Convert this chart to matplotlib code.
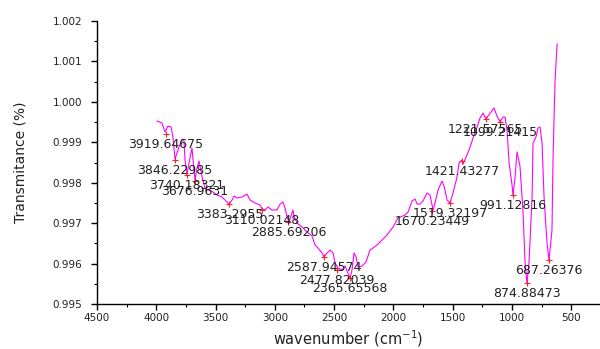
import matplotlib
matplotlib.use("Agg")
import matplotlib.pyplot as plt
from matplotlib.ticker import MultipleLocator, FormatStrFormatter

plt.rcParams['font.family'] = ['DejaVu Sans']

# FTIR spectrum
wavenumber = [3994, 3952, 3926, 3901, 3876, 3859, 3842, 3817, 3783, 3766,
              3758, 3741, 3724, 3699, 3690, 3673, 3656, 3640, 3614, 3589,
              3564, 3521, 3488, 3446, 3403, 3386, 3361, 3344, 3319, 3277,
              3235, 3209, 3167, 3125, 3108, 3083, 3057, 3024, 2982, 2956,
              2931, 2914, 2897, 2880, 2847, 2838, 2813, 2771, 2728, 2686,
              2661, 2636, 2602, 2585, 2560, 2534, 2509, 2492, 2467, 2433,
              2408, 2383, 2366, 2349, 2332, 2315, 2298, 2264, 2231, 2197,
              2138, 2096, 2054, 2003, 1961, 1902, 1876, 1843, 1817, 1800,
              1775, 1750, 1716, 1691, 1665, 1649, 1623, 1590, 1573, 1547,
              1522, 1497, 1463, 1446, 1421, 1412, 1379, 1353, 1328, 1294,
              1269, 1244, 1218, 1202, 1176, 1151, 1126, 1100, 1075, 1058,
              1041, 1024, 999, 991, 974, 957, 932, 906, 889, 873,
              856, 830, 822, 797, 780, 763, 746, 729, 704, 687,
              662, 653, 636, 619]
transmittance = [0.999526, 0.999477, 0.999254, 0.999403, 0.999378, 0.999131, 0.998587, 0.998809, 0.999081, 0.999032,
                 0.998562, 0.998216, 0.998488, 0.998859, 0.998562, 0.998067, 0.998364, 0.998537, 0.998141, 0.997869,
                 0.997820, 0.997770, 0.997696, 0.997647, 0.997523, 0.997473, 0.997572, 0.997671, 0.997622, 0.997647,
                 0.997721, 0.997572, 0.997498, 0.997449, 0.997350, 0.997325, 0.997399, 0.997325, 0.997325, 0.997473,
                 0.997523, 0.997375, 0.997152, 0.997028, 0.997325, 0.997177, 0.997004, 0.996905, 0.996781, 0.996682,
                 0.996459, 0.996385, 0.996261, 0.996163, 0.996261, 0.996336, 0.996261, 0.996014, 0.995890, 0.995841,
                 0.995940, 0.995767, 0.995643, 0.995841, 0.996261, 0.996163, 0.995915, 0.995940, 0.996039, 0.996336,
                 0.996459, 0.996583, 0.996707, 0.996905, 0.997127, 0.997201, 0.997276, 0.997548, 0.997597, 0.997473,
                 0.997473, 0.997548, 0.997746, 0.997696, 0.997325, 0.997498, 0.997820, 0.998042, 0.997919, 0.997572,
                 0.997498, 0.997746, 0.998141, 0.998488, 0.998562, 0.998463, 0.998686, 0.998883, 0.999106, 0.999378,
                 0.999601, 0.999724, 0.999576, 0.999650, 0.999749, 0.999848, 0.999650, 0.999502, 0.999625, 0.999625,
                 0.999304, 0.998488, 0.997943, 0.997696, 0.998117, 0.998760, 0.998413, 0.997251, 0.996014, 0.995519,
                 0.996014, 0.997647, 0.998982, 0.999131, 0.999353, 0.999378, 0.998982, 0.997647, 0.996509, 0.996088,
                 0.996830, 0.998636, 1.000541, 1.001431]

# picked peaks
peak_wn = [3919.64675, 3846.22985, 3740.18321, 3676.9631, 3383.2955, 3110.02148,
           2885.69206, 2587.94574, 2477.82039, 2365.65568, 1670.23449, 1519.32197,
           1421.43277, 1221.57565, 1099.21415, 991.12816, 874.88473, 687.26376]
peak_t = [0.999205, 0.998562, 0.998191, 0.998042, 0.997473, 0.997325,
          0.997028, 0.996163, 0.995841, 0.995643, 0.997300, 0.997498,
          0.998537, 0.999576, 0.999502, 0.997696, 0.995519, 0.996088]
peak_labels = ["3919.64675", "3846.22985", "3740.18321", "3676.9631", "3383.2955",
               "3110.02148", "2885.69206", "2587.94574", "2477.82039", "2365.65568",
               "1670.23449", "1519.32197", "1421.43277", "1221.57565", "1099.21415",
               "991.12816", "874.88473", "687.26376"]

fig = plt.figure(figsize=(6, 3.49), dpi=100)
ax = fig.add_axes([0.1617, 0.1289, 0.8383, 0.8109])

ax.plot(wavenumber, transmittance, color='#ff00ff', lw=0.8)
ax.plot(peak_wn, peak_t, ls='none', marker='+', color='#ff2020', ms=5, mew=0.8)
for w, t, lab in zip(peak_wn, peak_t, peak_labels):
    ax.annotate(lab, (w, t), xytext=(0, -7.5), textcoords='offset points',
                ha='center', va='center', fontsize=9, color='#222222')

ax.set_xlim(4500, 257)
ax.set_ylim(0.995, 1.002)
ax.xaxis.set_major_locator(MultipleLocator(500))
ax.xaxis.set_minor_locator(MultipleLocator(250))
ax.yaxis.set_major_locator(MultipleLocator(0.001))
ax.yaxis.set_minor_locator(MultipleLocator(0.0005))
ax.yaxis.set_major_formatter(FormatStrFormatter('%.3f'))

for s in ['top', 'right']:
    ax.spines[s].set_visible(False)
for s in ['left', 'bottom']:
    ax.spines[s].set_linewidth(1.0)

ax.tick_params(which='major', direction='out', length=4.5, width=1.0, labelsize=7.5, pad=2,
               labelcolor='#222222')
ax.tick_params(which='minor', direction='out', length=2.5, width=0.8)
ax.tick_params(axis='y', which='major', pad=6)

ax.set_xlabel('wavenumber (cm$^{-1}$)', fontsize=10.5, labelpad=4, color='#222222')
ax.set_ylabel('Transmitance (%)', fontsize=10, labelpad=18, color='#222222')

fig.savefig('out.png', dpi=100)
